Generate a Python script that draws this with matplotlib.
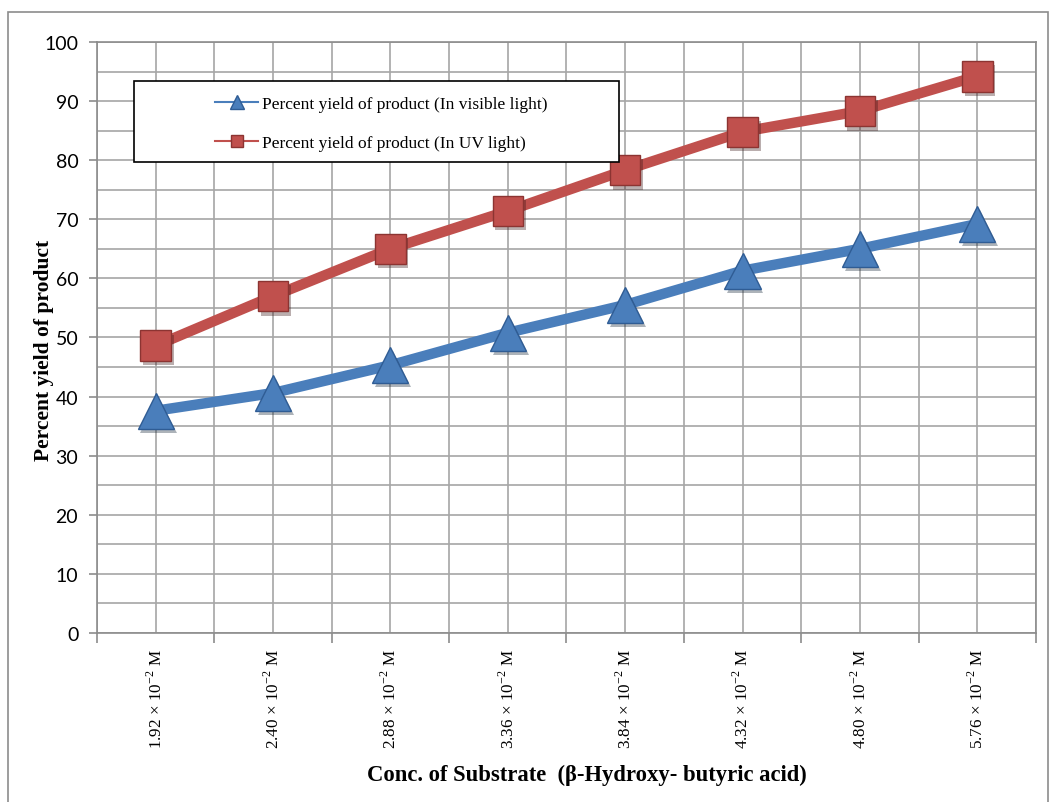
import matplotlib.pyplot as plt
import matplotlib.patheffects as pe
from matplotlib.patches import Rectangle
from matplotlib.ticker import MultipleLocator, FixedLocator

# Substrate concentrations (x 10^-2 M) and percent yields
conc = ["1.92", "2.40", "2.88", "3.36", "3.84", "4.32", "4.80", "5.76"]
yield_visible = [37.6, 40.6, 45.3, 50.8, 55.5, 61.3, 65.0, 69.2]
yield_uv = [48.6, 57.0, 65.0, 71.4, 78.3, 84.8, 88.3, 94.2]

plt.rcParams['mathtext.fontset'] = 'custom'
plt.rcParams['mathtext.rm'] = 'Liberation Serif'
serif = 'Liberation Serif'

fig = plt.figure(figsize=(10.51, 8.03), dpi=100)
ax = fig.add_axes([0.0923, 0.2105, 0.8934, 0.736])

# outer chart border
fig.patches.append(Rectangle((8 / 1051, -0.01), 1040 / 1051, 1 - 13 / 803 + 0.01,
                             transform=fig.transFigure, fill=False,
                             edgecolor='#8c8c8c', linewidth=1.2))

x = list(range(len(conc)))
blue, blue_edge = '#4a7ebb', '#2f5c94'
red, red_edge = '#c0504d', '#8c3432'

ax.plot(x, yield_visible, color=blue, linewidth=7.5, zorder=3, solid_capstyle='round')
ax.plot(x, yield_uv, color=red, linewidth=7.5, zorder=3, solid_capstyle='round')

shadow = [pe.SimplePatchShadow(offset=(2, -3), alpha=0.35), pe.Normal()]
ax.plot(x, yield_visible, linestyle='none', marker='^', markersize=26,
        markerfacecolor=blue, markeredgecolor=blue_edge, markeredgewidth=1,
        zorder=4, path_effects=shadow)
ax.plot(x, yield_uv, linestyle='none', marker='s', markersize=22,
        markerfacecolor=red, markeredgecolor=red_edge, markeredgewidth=1,
        zorder=4, path_effects=shadow)

ax.set_xlim(-0.5, len(conc) - 0.5)
ax.set_ylim(0, 100)

# y axis: labelled ticks every 10, grid every 5
ax.yaxis.set_major_locator(MultipleLocator(10))
ax.yaxis.set_minor_locator(MultipleLocator(5))
ax.tick_params(axis='y', which='major', length=6, width=1.2, color='#8c8c8c',
               labelsize=14, pad=7.5)
ax.tick_params(axis='y', which='minor', length=0)
for lab in ax.get_yticklabels():
    lab.set_fontfamily('Lato')

# x axis: labels at category centres, ticks at category boundaries
ax.set_xticks(x)
ax.set_xticklabels([c + r" × 10$^{-2}$ M" for c in conc], rotation=90,
                   fontfamily=serif, fontsize=12.3, va='top')
ax.xaxis.set_minor_locator(FixedLocator([i - 0.5 for i in range(len(conc) + 1)]))
ax.tick_params(axis='x', which='major', length=0, pad=11)
ax.tick_params(axis='x', which='minor', length=7, width=1.2, color='#8c8c8c')

ax.grid(True, which='both', color='#a6a6a6', linewidth=1.2, zorder=0)
ax.set_axisbelow(True)
for sp in ax.spines.values():
    sp.set_color('#8c8c8c')
    sp.set_linewidth(1.2)

ax.set_ylabel('Percent yield of product', fontfamily=serif, fontweight='bold',
              fontsize=15.5)
ax.yaxis.set_label_coords(-0.046, 0.48)
ax.set_xlabel('Conc. of Substrate  (β-Hydroxy- butyric acid)', fontfamily=serif,
              fontweight='bold', fontsize=16.3)
ax.xaxis.set_label_coords(0.522, -0.222)

# legend box
bx0, bx1 = (134 - 97) / 939, (619 - 97) / 939
by0, by1 = (634 - 163) / 591, (634 - 82) / 591
ax.add_patch(Rectangle((bx0, by0), bx1 - bx0, by1 - by0, transform=ax.transAxes,
                       facecolor='white', edgecolor='black', linewidth=1.2, zorder=5))
h1, = ax.plot([], [], color=blue, linewidth=1.5, marker='^', markersize=10,
              markerfacecolor=blue, markeredgecolor=blue_edge)
h2, = ax.plot([], [], color=red, linewidth=1.5, marker='s', markersize=9,
              markerfacecolor=red, markeredgecolor=red_edge)
leg = ax.legend([h1, h2], ['Percent yield of product (In visible light)',
                           'Percent yield of product (In UV light)'],
                loc='center',
                bbox_to_anchor=((bx0 + bx1) / 2 + 0.005, (by0 + by1) / 2 - 0.0035),
                frameon=False, prop={'family': serif, 'size': 12.5},
                handlelength=2.5, handletextpad=0.2, labelspacing=1.35)
leg.set_zorder(6)

fig.savefig('out.png', dpi=100)
